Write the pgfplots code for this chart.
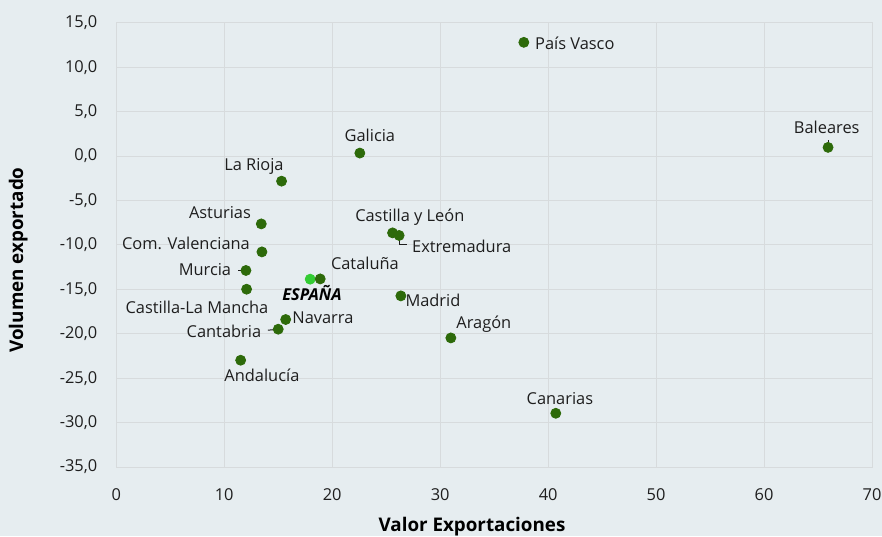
\documentclass[border=0pt]{standalone}
\usepackage{pgfplots}
\pgfplotsset{compat=1.18}
\usepackage{fontspec}
\setmainfont{Open Sans}
\usetikzlibrary{backgrounds}
\definecolor{bg}{HTML}{E6EDF0}
\definecolor{gridc}{HTML}{D7DBDD}
\definecolor{dg}{HTML}{2D6A0A}
\definecolor{lg}{HTML}{33CC33}
\definecolor{txt}{HTML}{1E1E1E}
\tikzset{lab/.style={font=\fontsize{8.2}{10}\selectfont, text=txt, inner sep=0pt}}
\begin{document}
\begin{tikzpicture}
\begin{axis}[name=ax, scale only axis, width=377.9pt, height=222.2pt,
  xmin=0, xmax=70, ymin=-35, ymax=15,
  xtick distance=10, ytick distance=5,
  grid=major, major grid style={gridc, line width=0.5pt},
  axis line style={draw=gridc, line width=0.5pt},
  major tick length=0pt,
  tick label style={font=\fontsize{8.2}{10}\selectfont, text=txt},
  /pgf/number format/assume math mode=true,
  yticklabel style={/pgf/number format/fixed, /pgf/number format/fixed zerofill, /pgf/number format/precision=1, /pgf/number format/use comma, xshift=-6pt},
  xticklabel style={yshift=-7pt},
  xlabel={Valor Exportaciones},
  xlabel style={at={(axis description cs:0.4707,0)}, anchor=center, yshift=-30pt, font=\bfseries\fontsize{9.4}{10}\selectfont, text=black},
  ylabel={Volumen exportado},
  ylabel style={at={(axis description cs:-0.1297,0.466)}, anchor=center, font=\bfseries\fontsize{9.4}{10}\selectfont, text=black},
  clip=false,
]
% leader lines
\draw[txt, line width=0.5pt] (axis cs:11.29,-12.88) -- (axis cs:12.0,-12.88);
\draw[txt, line width=0.5pt] (axis cs:14.05,-19.6) -- (axis cs:14.95,-19.5);
\draw[txt, line width=0.5pt] (axis cs:26.27,-8.99) -- (axis cs:26.27,-10.0) -- (axis cs:26.92,-10.0);
\draw[txt, line width=0.5pt] (axis cs:65.93,1.78) -- (axis cs:65.93,1.0);
% data
\addplot[only marks, mark=*, mark size=2.5pt, color=lg, mark options={draw=lg, fill=lg}] coordinates {(17.96,-13.86)};
\addplot[only marks, mark=*, mark size=2.5pt, color=dg, mark options={draw=dg, fill=dg}] table {
x y
37.75 12.79
65.93 0.97
22.56 0.33
15.31 -2.83
13.43 -7.64
13.49 -10.79
12.01 -12.88
12.07 -14.99
15.69 -18.40
15.00 -19.49
11.52 -22.98
18.89 -13.83
25.59 -8.65
26.20 -8.94
26.36 -15.74
30.99 -20.47
40.71 -28.95
};
% labels
\node[lab] at (axis cs:42.47,12.71) {País Vasco};
\node[lab] at (axis cs:65.81,3.26) {Baleares};
\node[lab] at (axis cs:23.49,2.35) {Galicia};
\node[lab] at (axis cs:12.75,-1.13) {La Rioja};
\node[lab] at (axis cs:9.6,-6.34) {Asturias};
\node[lab] at (axis cs:6.45,-9.85) {Com. Valenciana};
\node[lab] at (axis cs:8.21,-12.78) {Murcia};
\node[lab] at (axis cs:7.47,-17.06) {Castilla-La Mancha};
\node[lab] at (axis cs:9.97,-19.76) {Cantabria};
\node[lab] at (axis cs:19.14,-18.25) {Navarra};
\node[lab] at (axis cs:13.49,-24.64) {Andalucía};
\node[lab, font=\bfseries\itshape\fontsize{8.2}{10}\selectfont, text=black] at (axis cs:18.12,-15.44) {ESPAÑA};
\node[lab] at (axis cs:23.03,-12.06) {Cataluña};
\node[lab] at (axis cs:27.19,-6.88) {Castilla y León};
\node[lab] at (axis cs:32.0,-10.14) {Extremadura};
\node[lab] at (axis cs:29.33,-16.23) {Madrid};
\node[lab] at (axis cs:34.05,-18.93) {Aragón};
\node[lab] at (axis cs:41.09,-27.26) {Canarias};
\end{axis}
\begin{scope}[on background layer]
\fill[bg] ([xshift=-58.15pt,yshift=-34.5pt]ax.south west) rectangle ([xshift=5pt,yshift=11.35pt]ax.north east);
\end{scope}
\pgfresetboundingbox
\path[use as bounding box] ([xshift=-58.15pt,yshift=-34.5pt]ax.south west) rectangle ([xshift=5pt,yshift=11.35pt]ax.north east);
\end{tikzpicture}
\end{document}
